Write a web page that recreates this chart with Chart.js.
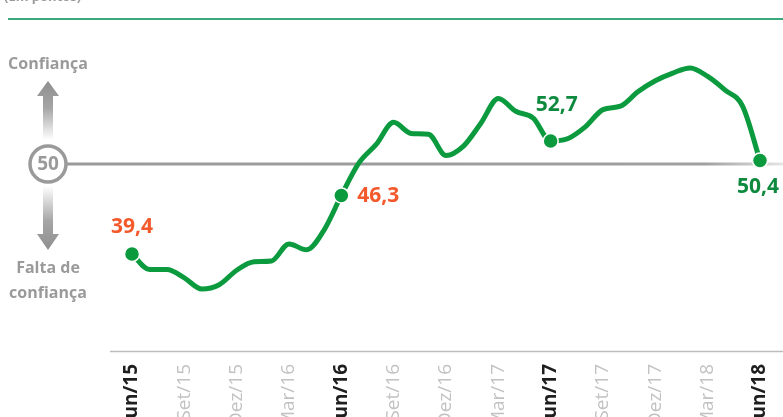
<!DOCTYPE html>
<html>
<head>
<meta charset="utf-8">
<script src="https://cdn.jsdelivr.net/npm/chart.js@4/dist/chart.umd.min.js"></script>
<style>
html,body{margin:0;padding:0;background:#fff;overflow:hidden;}
#wrap{position:relative;width:783px;height:417px;}
</style>
</head>
<body>
<div id="wrap"><canvas id="c" width="783" height="417"></canvas></div>
<script>
// ---- data ----
const months = ['Jun/15','Jul/15','Ago/15','Set/15','Out/15','Nov/15','Dez/15',
  'Jan/16','Fev/16','Mar/16','Abr/16','Mai/16','Jun/16','Jul/16','Ago/16','Set/16','Out/16','Nov/16','Dez/16',
  'Jan/17','Fev/17','Mar/17','Abr/17','Mai/17','Jun/17','Jul/17','Ago/17','Set/17','Out/17','Nov/17','Dez/17',
  'Jan/18','Fev/18','Mar/18','Abr/18','Mai/18','Jun/18'];
const confidence = [39.4,37.6,37.6,36.6,35.3,35.8,37.5,38.5,38.6,40.6,39.9,42.2,
  46.3,50.1,52.3,54.9,53.6,53.5,51.0,52.1,54.8,57.7,56.2,55.4,
  52.7,53.0,54.4,56.4,56.8,58.5,59.8,60.7,61.3,60.3,58.7,56.8,50.4];
const highlightIdx = [0,12,24,36];
const highlightText = ['39,4','46,3','52,7','50,4'];
const highlightColor = ['#f4592b','#f4592b','#0e8a3e','#0e8a3e'];
const neutralValue = 50;
const titleText = '(Em pontos)';
const upText = 'Confiança';
const downText = ['Falta de','confiança'];

const GREEN = '#0b9a3e';
const GRAY = '#9a9a9a';
const FONT = '"Open Sans", Lato, sans-serif';

const decor = {
  id:'decor',
  beforeDatasetsDraw(chart){
    const ctx = chart.ctx;
    const y = chart.scales.y;
    const y50 = y.getPixelForValue(neutralValue);
    const W = chart.width;
    ctx.save();
    // title (cut at top)
    ctx.fillStyle = '#9a9a9a';
    ctx.font = 'bold 13px ' + FONT;
    ctx.textAlign = 'left';
    ctx.textBaseline = 'alphabetic';
    ctx.fillText(titleText, 4, 1);
    // green rule
    ctx.strokeStyle = '#3aa97c';
    ctx.lineWidth = 2;
    ctx.beginPath(); ctx.moveTo(8, 19); ctx.lineTo(W, 19); ctx.stroke();
    // x axis line
    const bottom = chart.chartArea.bottom;
    ctx.strokeStyle = '#bdbdbd';
    ctx.lineWidth = 1.5;
    ctx.beginPath(); ctx.moveTo(110, bottom + 0.5); ctx.lineTo(W, bottom + 0.5); ctx.stroke();
    // 50 reference line
    const g = ctx.createLinearGradient(0,0,W,0);
    g.addColorStop(0, '#999');
    g.addColorStop(0.9, '#a0a0a0');
    g.addColorStop(1, '#e6e6e6');
    ctx.strokeStyle = g;
    ctx.lineWidth = 3;
    ctx.beginPath(); ctx.moveTo(66, y50); ctx.lineTo(W, y50); ctx.stroke();
    // circle
    const cx = 48;
    ctx.fillStyle = '#fff';
    ctx.strokeStyle = GRAY;
    ctx.lineWidth = 3.5;
    ctx.beginPath(); ctx.arc(cx, y50, 18, 0, Math.PI*2); ctx.fill(); ctx.stroke();
    ctx.fillStyle = GRAY;
    ctx.font = 'bold 19px ' + FONT;
    ctx.textAlign = 'center';
    ctx.textBaseline = 'middle';
    ctx.fillText(String(neutralValue), cx, y50 + 1);
    // up arrow
    let ga = ctx.createLinearGradient(0, 82, 0, 140);
    ga.addColorStop(0, '#8f8f8f'); ga.addColorStop(0.45, '#a5a5a5'); ga.addColorStop(1, '#ffffff');
    ctx.fillStyle = ga;
    ctx.beginPath();
    ctx.moveTo(cx, 81); ctx.lineTo(cx+11, 96); ctx.lineTo(cx+5, 96); ctx.lineTo(cx+5, 140);
    ctx.lineTo(cx-5, 140); ctx.lineTo(cx-5, 96); ctx.lineTo(cx-11, 96); ctx.closePath(); ctx.fill();
    // down arrow
    ga = ctx.createLinearGradient(0, 186, 0, 250);
    ga.addColorStop(0, '#ffffff'); ga.addColorStop(0.55, '#a5a5a5'); ga.addColorStop(1, '#8f8f8f');
    ctx.fillStyle = ga;
    ctx.beginPath();
    ctx.moveTo(cx-5, 186); ctx.lineTo(cx+5, 186); ctx.lineTo(cx+5, 234); ctx.lineTo(cx+11, 234);
    ctx.lineTo(cx, 250); ctx.lineTo(cx-11, 234); ctx.lineTo(cx-5, 234); ctx.closePath(); ctx.fill();
    // side texts
    ctx.fillStyle = GRAY;
    ctx.font = 'bold 16px ' + FONT;
    ctx.textBaseline = 'middle';
    ctx.fillText(upText, cx, 64);
    ctx.fillText(downText[0], cx, 268);
    ctx.fillText(downText[1], cx, 293);
    ctx.restore();
  },
  afterDatasetsDraw(chart){
    const ctx = chart.ctx;
    const meta = chart.getDatasetMeta(0);
    const offs = [[0,-27,'center'],[16,1,'left'],[6,-36,'center'],[-2,26,'center']];
    ctx.save();
    ctx.font = 'bold 21px ' + FONT;
    ctx.textBaseline = 'middle';
    highlightIdx.forEach((idx,k)=>{
      const p = meta.data[idx];
      ctx.fillStyle = highlightColor[k];
      ctx.textAlign = offs[k][2];
      ctx.fillText(highlightText[k], p.x + offs[k][0], p.y + offs[k][1]);
    });
    ctx.restore();
  }
};

new Chart(document.getElementById('c'), {
  type:'line',
  data:{
    labels: months,
    datasets:[{
      data: confidence,
      borderColor: GREEN,
      borderWidth: 5,
      cubicInterpolationMode: 'monotone',
      pointRadius: months.map((m,i)=> highlightIdx.includes(i) ? 7.5 : 0),
      pointBackgroundColor: GREEN,
      pointBorderColor: '#ffffff',
      pointBorderWidth: 1.5,
      borderCapStyle: 'round',
      borderJoinStyle: 'round'
    }]
  },
  options:{
    responsive:false,
    animation:false,
    devicePixelRatio:1,
    layout:{padding:{top:36.5,left:132,right:23,bottom:0}},
    plugins:{legend:{display:false},tooltip:{enabled:false}},
    scales:{
      y:{display:false,min:28,max:65},
      x:{
        offset:false,
        grid:{display:false,drawTicks:false},
        border:{display:false},
        afterFit(s){ s.height = 66; s.paddingLeft = 0; s.paddingRight = 0; },
        ticks:{
          autoSkip:false,
          minRotation:90,maxRotation:90,
          padding:13,
          callback:(v,i)=> i%3===0 ? months[i] : '',
          font:(c)=>({family:FONT,size:19,weight:(c.index%12===0)?'bold':'normal'}),
          color:(c)=> (c.index%12===0) ? '#1e1e1e' : '#c2c2c2'
        }
      }
    }
  },
  plugins:[decor]
});
</script>
</body>
</html>
